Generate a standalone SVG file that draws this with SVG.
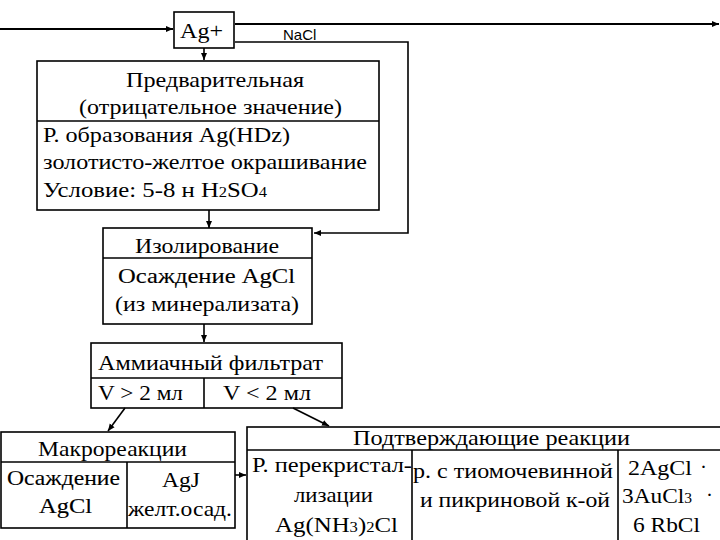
<svg xmlns="http://www.w3.org/2000/svg" width="720" height="540" viewBox="0 0 720 540">
<style>
.box{fill:none;stroke:#000;stroke-width:1.6}
.ln{fill:none;stroke:#000;stroke-width:1.6}
.cn{fill:none;stroke:#000;stroke-width:2.2}
text{font-family:"Liberation Serif","Liberation Sans","Times New Roman",serif;font-size:21px;fill:#000}
.b{stroke:#000;stroke-width:0.12}
.s{font-size:14px}
.sans{font-family:"Liberation Sans",Arial,sans-serif;font-size:15px}
</style>
<defs>
<marker id="ah" markerWidth="8" markerHeight="8" refX="7" refY="4" orient="auto" markerUnits="userSpaceOnUse">
<path d="M0,1 L7,4 L0,7 Z" fill="#000"/>
</marker>
</defs>
<rect width="720" height="540" fill="#fff"/>
<g id="connectors">
<path class="cn" d="M0,29 H173" marker-end="url(#ah)"/>
<path class="cn" d="M235,24 H719" marker-end="url(#ah)"/>
<path class="ln" d="M235,42 H408 V233 H314" marker-end="url(#ah)"/>
<path class="ln" d="M204,48 V60" marker-end="url(#ah)"/>
<path class="ln" d="M209,210 V228" marker-end="url(#ah)"/>
<path class="ln" d="M204,324 V342" marker-end="url(#ah)"/>
<path class="ln" d="M125,408 L108,431" marker-end="url(#ah)"/>
<path class="ln" d="M293,408 L329,426" marker-end="url(#ah)"/>
<path class="ln" d="M235,475 H246" marker-end="url(#ah)"/>
<text class="sans" x="283" y="40">NaCl</text>
</g>
<g id="ag">
<rect class="box" x="174" y="12" width="60" height="36"/>
<text x="180" y="38" textLength="43" lengthAdjust="spacingAndGlyphs">Ag+</text>
</g>
<g id="pred">
<rect class="box" x="37" y="61" width="342" height="149"/>
<line class="ln" x1="37" y1="121" x2="379" y2="121"/>
<text x="126" y="87" textLength="178" lengthAdjust="spacingAndGlyphs">Предварительная</text>
<text x="79" y="114" textLength="263" lengthAdjust="spacingAndGlyphs">(отрицательное значение)</text>
<text x="43" y="142" textLength="247" lengthAdjust="spacingAndGlyphs">Р. образования Ag(HDz)</text>
<text x="43" y="169" textLength="324" lengthAdjust="spacingAndGlyphs">золотисто-желтое окрашивание</text>
<text x="43" y="197" textLength="224" lengthAdjust="spacingAndGlyphs">Условие: 5-8 н H<tspan class="s">2</tspan>SO<tspan class="s">4</tspan></text>
</g>
<g id="izol">
<rect class="box" x="103" y="228" width="209" height="96"/>
<line class="ln" x1="103" y1="258" x2="312" y2="258"/>
<text x="135" y="253" textLength="144" lengthAdjust="spacingAndGlyphs">Изолирование</text>
<text class="b" x="118" y="283" textLength="177" lengthAdjust="spacingAndGlyphs">Осаждение  AgCl</text>
<text x="115" y="311" textLength="184" lengthAdjust="spacingAndGlyphs">(из минерализата)</text>
</g>
<g id="amm">
<rect class="box" x="91" y="343" width="251" height="65"/>
<line class="ln" x1="91" y1="378" x2="342" y2="378"/>
<line class="ln" x1="204" y1="378" x2="204" y2="408"/>
<text x="98" y="370" textLength="225" lengthAdjust="spacingAndGlyphs">Аммиачный фильтрат</text>
<text x="98" y="400" textLength="85" lengthAdjust="spacingAndGlyphs">V &gt; 2 мл</text>
<text x="223" y="400" textLength="88" lengthAdjust="spacingAndGlyphs">V &lt; 2 мл</text>
</g>
<g id="macro">
<rect class="box" x="1" y="432" width="234" height="96"/>
<line class="ln" x1="1" y1="462" x2="235" y2="462"/>
<line class="ln" x1="127" y1="462" x2="127" y2="528"/>
<text x="38" y="456" textLength="149" lengthAdjust="spacingAndGlyphs">Макрореакции</text>
<text class="b" x="7" y="485" textLength="113" lengthAdjust="spacingAndGlyphs">Осаждение</text>
<text class="b" x="39" y="513" textLength="53" lengthAdjust="spacingAndGlyphs">AgCl</text>
<text x="162" y="487" textLength="38" lengthAdjust="spacingAndGlyphs">AgJ</text>
<text x="128" y="516" textLength="104" lengthAdjust="spacingAndGlyphs">желт.осад.</text>
</g>
<g id="podtv">
<rect class="box" x="247" y="427" width="480" height="120"/>
<line class="ln" x1="247" y1="450" x2="720" y2="450"/>
<line class="ln" x1="412" y1="450" x2="412" y2="540"/>
<line class="ln" x1="618" y1="450" x2="618" y2="540"/>
<text x="353" y="445" textLength="277" lengthAdjust="spacingAndGlyphs">Подтверждающие реакции</text>
<text x="252" y="472" textLength="160" lengthAdjust="spacingAndGlyphs">Р. перекристал-</text>
<text x="294" y="502" textLength="79" lengthAdjust="spacingAndGlyphs">лизации</text>
<text x="275" y="532" textLength="123" lengthAdjust="spacingAndGlyphs">Ag(NH<tspan class="s">3</tspan>)<tspan class="s">2</tspan>Cl</text>
<text x="413" y="478" textLength="200" lengthAdjust="spacingAndGlyphs">р. с тиомочевинной</text>
<text x="420" y="507" textLength="190" lengthAdjust="spacingAndGlyphs">и пикриновой к-ой</text>
<text x="628" y="475" textLength="64" lengthAdjust="spacingAndGlyphs">2AgCl</text>
<text x="700" y="474">·</text>
<text x="622" y="503" textLength="70" lengthAdjust="spacingAndGlyphs">3AuCl<tspan class="s">3</tspan></text>
<text x="706" y="502">·</text>
<text x="633" y="532" textLength="67" lengthAdjust="spacingAndGlyphs">6 RbCl</text>
</g>
</svg>
